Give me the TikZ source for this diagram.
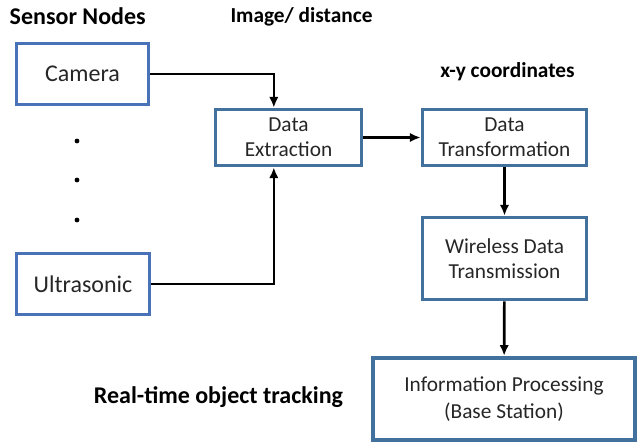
\documentclass[tikz,border=0pt]{standalone}
\usepackage{fontspec}
\setmainfont{Carlito}
\usepackage{xcolor}
\usepackage{tikz}
\usetikzlibrary{arrows.meta,positioning}
\definecolor{camblue}{HTML}{4A72B8}
\definecolor{boxblue}{HTML}{41719C}

\begin{document}
\begin{tikzpicture}[
  x=0.75pt, y=-0.75pt,
  sensor/.style={draw=camblue, line width=2.8pt, inner sep=0pt, align=center, font=\fontsize{18}{21}\selectfont, text=black!85},
  box/.style={draw=boxblue, line width=2.8pt, inner sep=0pt, align=center, font=\fontsize{16}{19}\selectfont, text=black!85},
  lbl/.style={font=\bfseries\fontsize{16}{19}\selectfont},
  arr/.style={-{Latex[length=8pt,width=7pt]}, line width=2pt}
]
  \useasboundingbox (0,0) rectangle (637,443);

  \node[sensor, minimum width=99pt, minimum height=45.75pt] (cam) at (82.5,74) {Camera};
  \node[sensor, minimum width=99.75pt, minimum height=45.75pt] (ultra) at (83,284) {Ultrasonic};
  \node[box, minimum width=109.5pt, minimum height=42pt] (extr) at (288.5,137.5) {Data\\Extraction};
  \node[box, minimum width=123pt, minimum height=42pt] (trans) at (504.5,137.5) {Data\\Transformation};
  \node[box, minimum width=123pt, minimum height=61.5pt] (wdt) at (504.5,258.5) {Wireless Data\\Transmission};
  \node[box, minimum width=197pt, minimum height=62pt, font=\fontsize{16}{20}\selectfont] (info) at (504,399) {Information Processing\\(Base Station)};

  \node[lbl, font=\bfseries\fontsize{18}{21}\selectfont, anchor=west] (title) at (5,16) {Sensor Nodes};
  \node[lbl] (imgdist) at (301.5,17) {Image/ distance};
  \node[lbl] (xycoord) at (507.5,72) {x-y coordinates};
  \node[lbl, font=\bfseries\fontsize{18}{21}\selectfont] (track) at (218.5,397) {Real-time object tracking};

  \foreach \dy in {141,180,220}
    \fill (77,\dy) circle (1.8pt);

  \draw[arr] (cam.east) -| ([xshift=-11pt]extr.north);
  \draw[arr] (ultra.east) -| ([xshift=-11pt]extr.south);
  \draw[arr] (extr) -- (trans);
  \draw[arr] (trans) -- (wdt);
  \draw[arr] (wdt) -- (info);
\end{tikzpicture}
\end{document}
